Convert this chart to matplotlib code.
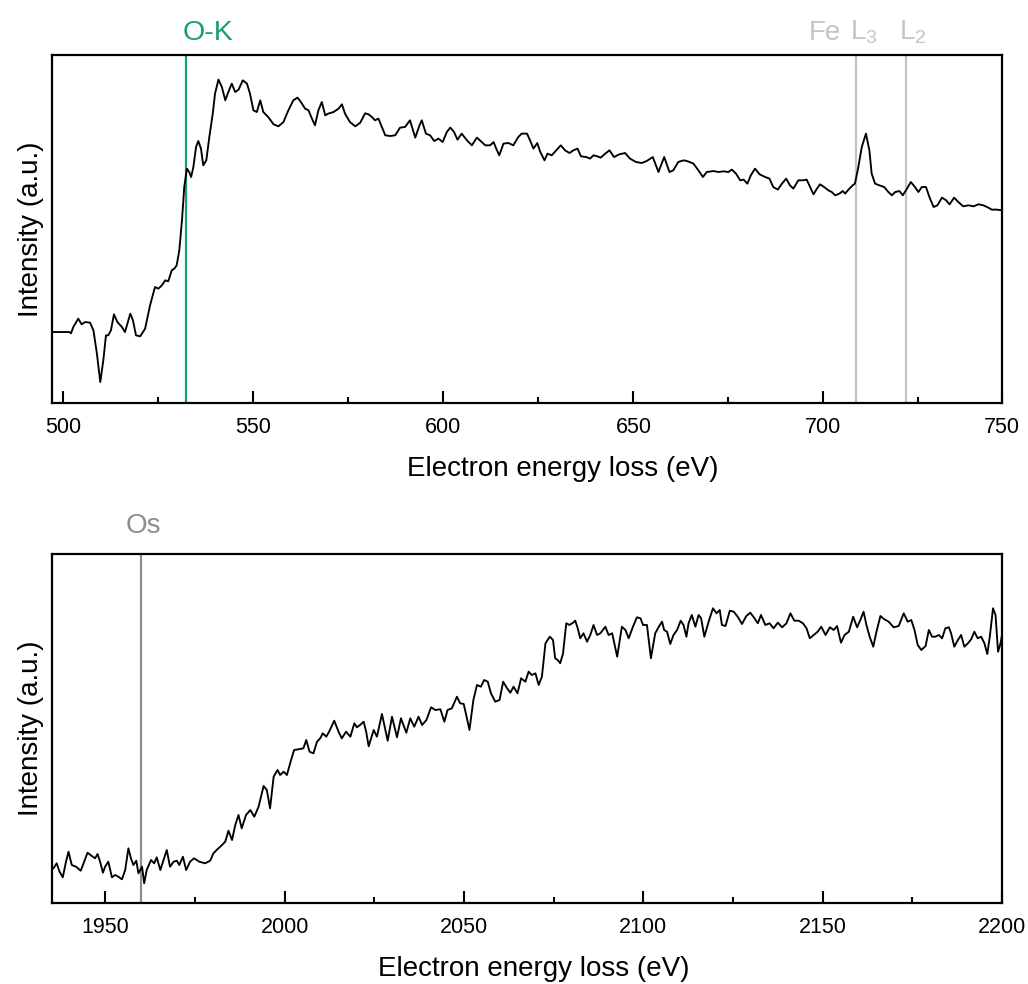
import matplotlib
matplotlib.use("Agg")
import matplotlib.pyplot as plt
from matplotlib.ticker import FixedLocator
import matplotlib.transforms as mtransforms

plt.rcParams['font.family'] = ['Liberation Sans', 'DejaVu Sans']
plt.rcParams['mathtext.fontset'] = 'custom'
plt.rcParams['mathtext.rm'] = 'Liberation Sans'
plt.rcParams['mathtext.it'] = 'Liberation Sans:italic'

# ---------------- data: O-K / Fe-L region (energy in eV, intensity a.u.) ----------------
ok_energy = [
    497.0, 501.6, 502.0, 502.6, 503.9, 504.8, 505.7, 507.0, 507.9, 508.8, 509.7, 510.5, 511.2, 511.8,
    512.5, 513.3, 514.2, 515.4, 516.2, 517.6, 518.3, 519.1, 520.2, 521.5, 522.8, 524.1, 525.0, 525.9,
    526.8, 527.6, 528.5, 529.2, 529.8, 530.5, 531.2, 531.8, 532.5, 533.1, 533.6, 534.2, 534.9, 535.5,
    536.2, 536.8, 537.6, 538.4, 539.3, 539.9, 540.8, 541.7, 542.6, 543.4, 544.3, 545.2, 546.1, 547.2,
    548.3, 549.1, 550.0, 550.9, 551.8, 552.6, 553.9, 555.3, 556.6, 557.9, 559.2, 560.5, 561.6, 562.5,
    563.6, 564.5, 565.4, 566.2, 567.1, 568.0, 568.9, 569.7, 571.1, 572.4, 573.3, 574.1, 575.4, 576.8,
    578.1, 579.4, 580.3, 581.2, 582.0, 582.9, 583.8, 584.7, 586.0, 587.3, 588.6, 589.9, 591.2, 592.6,
    593.7, 594.3, 595.4, 596.5, 597.6, 598.7, 599.8, 600.9, 601.8, 602.8, 603.7, 604.8, 606.2, 607.5,
    608.8, 610.1, 611.0, 612.3, 613.2, 613.9, 614.7, 615.8, 617.1, 618.4, 619.7, 620.6, 622.0, 622.8,
    623.7, 624.7, 625.5, 626.6, 627.4, 628.5, 629.7, 630.9, 632.0, 633.2, 634.2, 635.3, 636.2, 637.6,
    638.6, 639.5, 640.5, 641.4, 642.6, 643.7, 644.9, 646.3, 647.8, 649.1, 650.7, 652.2, 653.5, 655.1,
    656.6, 658.1, 659.5, 660.5, 661.8, 663.2, 664.1, 665.8, 667.1, 668.3, 669.3, 671.1, 672.4, 673.7,
    675.0, 675.9, 677.0, 678.1, 679.0, 680.0, 680.9, 682.0, 683.2, 684.7, 685.8, 686.8, 688.0, 689.1,
    690.2, 691.2, 692.1, 693.4, 694.6, 695.6, 696.5, 697.4, 698.3, 699.1, 700.2, 701.3, 702.2, 703.1,
    704.2, 705.1, 705.7, 706.6, 707.7, 708.3, 709.2, 710.1, 711.2, 712.1, 712.7, 713.6, 714.7, 716.0,
    717.1, 718.0, 718.9, 720.0, 720.9, 722.0, 723.0, 724.1, 725.0, 725.9, 727.0, 727.9, 729.0, 730.0,
    731.2, 732.3, 733.2, 734.4, 735.5, 736.8, 738.2, 739.5, 740.8, 742.1, 743.4, 744.3, 745.6, 747.0,
]
ok_intensity = [
    71.3, 71.3, 70.0, 76.3, 84.7, 79.0, 81.3, 80.7, 73.0, 50.0, 21.3, 43.0, 68.0, 68.0,
    73.0, 89.0, 81.3, 76.3, 71.3, 89.7, 83.0, 68.0, 67.0, 74.7, 98.0, 116.3, 114.7, 118.0,
    123.0, 122.0, 133.0, 134.7, 138.0, 153.0, 183.0, 216.3, 234.7, 231.3, 226.3, 236.3, 256.3, 262.3,
    254.7, 238.0, 243.0, 266.3, 289.7, 309.7, 323.7, 316.3, 303.0, 311.3, 319.7, 311.3, 313.7, 323.0,
    319.7, 309.7, 293.0, 291.3, 303.0, 291.3, 286.3, 279.0, 277.0, 281.3, 293.0, 303.0, 305.7, 301.3,
    294.7, 293.0, 284.7, 278.0, 293.0, 301.3, 288.0, 289.7, 291.3, 294.7, 299.0, 289.7, 281.3, 277.0,
    280.5, 290.0, 289.0, 286.3, 283.0, 284.7, 276.3, 268.0, 267.3, 268.0, 275.7, 276.3, 283.0, 265.7,
    278.0, 283.0, 269.7, 268.0, 262.3, 264.7, 261.3, 271.3, 275.7, 271.3, 263.7, 269.7, 263.0, 258.0,
    265.7, 261.3, 258.0, 258.0, 261.3, 254.7, 248.0, 259.7, 260.3, 258.0, 266.3, 269.7, 269.7, 263.0,
    254.7, 260.3, 251.3, 243.0, 249.7, 248.0, 253.0, 258.0, 253.0, 250.3, 253.0, 254.7, 247.0, 246.3,
    244.7, 248.0, 247.0, 245.7, 249.7, 253.0, 246.3, 249.0, 250.3, 244.7, 241.3, 240.3, 242.3, 246.3,
    231.3, 246.3, 231.3, 233.0, 241.3, 243.0, 242.3, 239.7, 233.0, 226.3, 231.3, 232.3, 231.3, 232.0,
    231.3, 233.7, 229.7, 223.0, 223.7, 219.7, 228.0, 234.7, 229.0, 226.3, 224.7, 216.3, 213.7, 219.7,
    224.7, 218.0, 214.7, 223.0, 223.0, 223.7, 216.3, 209.0, 214.7, 219.0, 216.3, 213.0, 211.3, 208.0,
    209.7, 212.3, 209.7, 213.7, 218.0, 219.7, 236.3, 256.3, 269.7, 253.0, 229.7, 219.7, 218.0, 216.3,
    211.3, 208.0, 211.3, 212.3, 208.0, 214.7, 221.3, 216.3, 211.3, 216.3, 216.3, 206.3, 196.3, 198.0,
    205.7, 203.0, 199.0, 205.7, 201.3, 197.0, 198.0, 197.0, 199.0, 198.0, 195.7, 193.7, 193.7, 193.0,
]

# ---------------- data: Os region ----------------
os_energy = [
    1935.5, 1936.4, 1937.2, 1938.1, 1939.0, 1939.7, 1940.6, 1941.8, 1943.1, 1943.9, 1945.0, 1946.2,
    1947.1, 1947.8, 1948.5, 1949.3, 1949.9, 1950.8, 1951.8, 1952.7, 1953.6, 1954.6, 1955.5, 1956.4,
    1957.1, 1957.8, 1958.6, 1959.2, 1960.2, 1960.8, 1961.5, 1962.7, 1963.6, 1964.3, 1965.3, 1966.2,
    1967.1, 1968.0, 1969.0, 1969.9, 1970.6, 1971.6, 1972.5, 1973.6, 1974.7, 1976.2, 1977.8, 1979.2,
    1980.1, 1981.2, 1982.5, 1983.4, 1984.3, 1985.3, 1986.2, 1987.1, 1988.0, 1989.2, 1990.4, 1991.5,
    1992.7, 1994.1, 1995.0, 1995.9, 1996.9, 1998.0, 1998.7, 1999.7, 2000.6, 2001.5, 2002.6, 2003.8,
    2005.2, 2006.0, 2006.9, 2008.0, 2009.0, 2009.9, 2010.6, 2011.6, 2012.5, 2013.8, 2015.0, 2015.9,
    2017.1, 2018.3, 2019.4, 2020.1, 2021.0, 2022.0, 2022.7, 2023.4, 2024.8, 2025.7, 2027.1, 2028.7,
    2029.9, 2031.3, 2032.4, 2033.9, 2035.0, 2036.1, 2037.3, 2038.3, 2039.5, 2040.8, 2042.0, 2043.4,
    2044.5, 2045.4, 2046.6, 2048.0, 2048.9, 2049.9, 2050.8, 2051.5, 2052.6, 2053.6, 2054.7, 2055.6,
    2056.6, 2057.5, 2058.7, 2059.9, 2060.9, 2062.0, 2062.9, 2063.8, 2064.9, 2065.9, 2067.1, 2068.0,
    2068.9, 2069.9, 2070.8, 2071.7, 2072.7, 2073.9, 2074.8, 2075.4, 2076.1, 2076.8, 2077.6, 2078.5,
    2079.4, 2080.4, 2081.0, 2081.7, 2082.4, 2083.3, 2084.3, 2085.2, 2086.1, 2087.1, 2088.0, 2089.4,
    2090.3, 2091.3, 2092.7, 2094.0, 2095.0, 2095.9, 2097.1, 2098.2, 2099.2, 2099.9, 2101.0, 2102.1,
    2103.3, 2104.3, 2105.2, 2105.8, 2106.6, 2107.5, 2108.4, 2109.4, 2110.4, 2111.2, 2112.0, 2112.6,
    2113.5, 2114.5, 2115.4, 2116.1, 2117.0, 2118.2, 2119.4, 2120.4, 2121.3, 2121.9, 2122.9, 2124.1,
    2125.2, 2126.3, 2127.5, 2128.7, 2129.8, 2130.8, 2131.9, 2132.8, 2134.0, 2135.2, 2136.3, 2137.5,
    2138.7, 2139.9, 2141.0, 2142.1, 2143.3, 2144.5, 2145.5, 2146.4, 2147.5, 2148.6, 2149.6, 2150.8,
    2152.0, 2153.1, 2154.0, 2155.1, 2156.1, 2157.3, 2158.5, 2159.6, 2160.5, 2161.4, 2162.2, 2163.1,
    2164.1, 2165.0, 2166.1, 2167.2, 2168.4, 2169.8, 2171.2, 2172.6, 2173.7, 2174.7, 2175.6, 2176.5,
    2177.5, 2178.7, 2179.6, 2180.5, 2181.4, 2182.4, 2183.3, 2184.2, 2185.2, 2185.8, 2186.7, 2187.7,
    2188.6, 2189.5, 2190.5, 2191.4, 2192.3, 2193.2, 2194.2, 2195.1, 2195.9, 2196.6, 2197.5, 2198.2,
    2198.9, 2199.6, 2200.0,
]
os_intensity = [
    35.0, 40.0, 31.6, 26.0, 41.6, 51.6, 38.3, 36.6, 32.6, 40.0, 50.6, 47.3,
    45.0, 49.3, 41.6, 30.6, 36.6, 41.6, 26.0, 28.3, 26.6, 24.0, 33.3, 55.0,
    45.0, 38.3, 42.6, 30.0, 36.6, 20.0, 33.3, 43.3, 40.0, 46.0, 33.3, 43.3,
    53.3, 36.6, 41.6, 42.6, 38.3, 46.6, 33.3, 41.6, 45.0, 41.6, 40.0, 42.6,
    50.0, 54.0, 58.3, 61.6, 72.6, 63.3, 78.3, 88.3, 75.0, 88.3, 93.3, 86.6,
    96.6, 117.3, 113.3, 95.0, 126.6, 133.3, 128.3, 131.6, 128.3, 140.0, 153.3, 154.0,
    155.0, 163.3, 151.6, 150.0, 161.6, 165.0, 170.0, 166.6, 172.6, 182.6, 171.6, 165.0,
    171.6, 166.6, 180.0, 176.0, 178.3, 181.6, 171.6, 157.0, 173.3, 166.6, 189.3, 162.6,
    186.6, 166.0, 185.0, 170.6, 185.0, 176.6, 186.6, 178.3, 183.3, 196.0, 193.3, 194.0,
    181.6, 193.3, 195.0, 206.6, 200.0, 199.3, 185.0, 173.3, 203.3, 218.3, 216.6, 223.3,
    221.6, 210.0, 201.6, 203.3, 221.6, 215.0, 210.6, 216.6, 210.0, 225.0, 221.6, 231.6,
    228.3, 230.0, 218.3, 226.6, 260.0, 266.6, 263.3, 245.0, 243.3, 240.0, 250.0, 280.0,
    278.3, 280.6, 282.6, 275.0, 265.0, 270.0, 261.6, 268.3, 278.3, 268.3, 270.0, 276.6,
    268.3, 270.0, 246.6, 276.6, 273.3, 265.0, 276.6, 286.0, 285.0, 278.3, 278.3, 245.0,
    270.0, 276.6, 281.6, 273.3, 271.6, 259.3, 268.3, 273.3, 282.6, 278.3, 266.6, 280.0,
    288.3, 276.6, 288.3, 285.0, 266.6, 281.6, 295.0, 290.0, 293.3, 278.3, 277.3, 292.6,
    291.6, 286.6, 279.3, 287.3, 290.6, 286.0, 280.0, 288.3, 278.3, 280.0, 275.0, 280.6,
    276.0, 280.0, 290.0, 282.6, 282.6, 280.0, 275.0, 265.0, 268.3, 271.6, 276.6, 268.3,
    276.0, 273.3, 277.3, 260.6, 268.3, 271.6, 286.6, 276.0, 283.3, 291.6, 278.3, 266.6,
    256.6, 271.6, 287.3, 284.0, 281.6, 276.0, 277.3, 290.0, 281.6, 283.3, 273.3, 258.3,
    253.3, 257.3, 273.3, 266.6, 266.6, 268.3, 265.0, 275.0, 276.0, 270.0, 256.6, 263.3,
    268.3, 256.6, 260.0, 264.0, 271.6, 265.0, 266.6, 260.0, 249.3, 266.6, 295.0, 288.3,
    251.6, 260.0, 268.3,
]

# ---------------- edge markers ----------------
ok_edge = 532.2
fe_edges = [708.7, 721.7]
fe_labels = ['L$_3$', 'L$_2$']
os_edge = 1959.9

top_major = [500, 550, 600, 650, 700]
top_major_labels = ['500', '550', '600', '650', '700']
top_minor = [525, 575, 625, 675, 725]
bot_major = [1950, 2000, 2050, 2100, 2150, 2200]
bot_minor = [1975, 2025, 2075, 2125, 2175]

GREEN = '#1a9e77'
LIGHT = '#c4c4c4'
MID = '#8e8e8e'

fig = plt.figure(figsize=(10.28, 9.84), dpi=100)
ax1 = fig.add_axes([0.0506, 0.5901, 0.9241, 0.3545])
ax2 = fig.add_axes([0.0506, 0.0820, 0.9241, 0.3550])

TOP_XMAX = 747.0

for ax in (ax1, ax2):
    for s in ax.spines.values():
        s.set_linewidth(1.6)
    ax.tick_params(axis='x', which='major', direction='in', length=9, width=1.5,
                   labelsize=15.5, pad=10)
    ax.tick_params(axis='x', which='minor', direction='in', length=4.5, width=1.5)
    ax.tick_params(axis='y', left=False, labelleft=False)
    ax.set_ylabel('Intensity (a.u.)', fontsize=20, labelpad=6)
    ax.set_xlabel('Electron energy loss (eV)', fontsize=20, labelpad=12)

# top panel
ax1.plot(ok_energy, ok_intensity, color='black', lw=1.35, zorder=3)
ax1.axvline(ok_edge, color=GREEN, lw=1.6, zorder=2)
for e in fe_edges:
    ax1.axvline(e, color=LIGHT, lw=1.6, zorder=2)
ax1.set_xlim(497.0, TOP_XMAX)
ax1.set_ylim(0, 348.8)
ax1.xaxis.set_major_locator(FixedLocator(top_major + [TOP_XMAX]))
ax1.set_xticklabels(top_major_labels + ['750'])
ax1.xaxis.set_minor_locator(FixedLocator(top_minor))
ax1.xaxis.set_label_coords(0.5376, -0.15)

tr1 = mtransforms.blended_transform_factory(ax1.transData, ax1.transAxes)
ax1.text(ok_edge - 0.9, 1.042, 'O-K', color=GREEN, fontsize=20.5, ha='left',
         va='baseline', transform=tr1)
ax1.text(704.6, 1.042, 'Fe', color=LIGHT, fontsize=20, ha='right', va='baseline', transform=tr1)
for e, lab in zip(fe_edges, fe_labels):
    ax1.text(e - 1.7, 1.042, lab, color=LIGHT, fontsize=20, ha='left', va='baseline', transform=tr1)

# bottom panel
ax2.plot(os_energy, os_intensity, color='black', lw=1.35, zorder=3)
ax2.axvline(os_edge, color=MID, lw=1.6, zorder=2)
ax2.set_xlim(1935.1, 2200.0)
ax2.set_ylim(0, 349.3)
ax2.xaxis.set_major_locator(FixedLocator(bot_major))
ax2.xaxis.set_minor_locator(FixedLocator(bot_minor))
ax2.xaxis.set_label_coords(0.507, -0.15)

tr2 = mtransforms.blended_transform_factory(ax2.transData, ax2.transAxes)
ax2.text(os_edge + 0.7, 1.06, 'Os', color=MID, fontsize=20, ha='center', va='baseline', transform=tr2)

fig.savefig('out.png', dpi=100)
